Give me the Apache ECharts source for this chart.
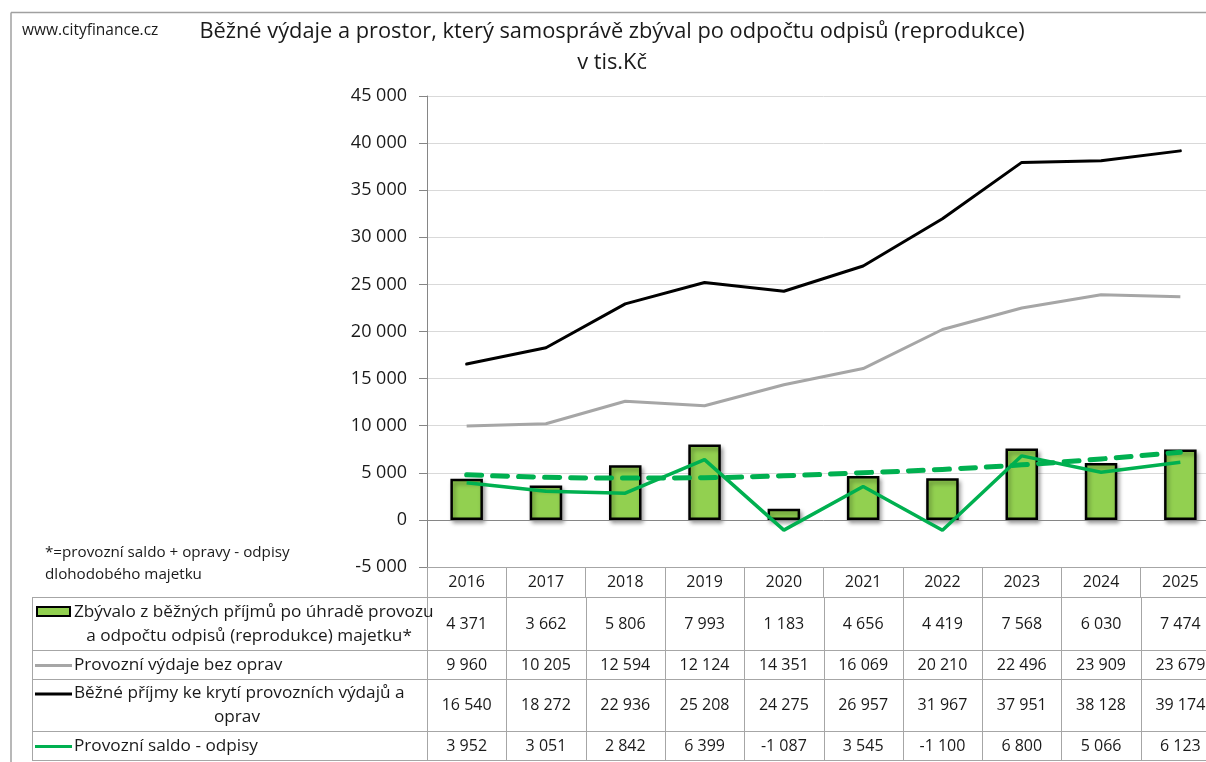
<!DOCTYPE html>
<html>
<head>
<meta charset="utf-8">
<script src="https://cdn.jsdelivr.net/npm/echarts@6/dist/echarts.min.js"></script>
<style>
  html, body { margin: 0; padding: 0; background: #ffffff; overflow: hidden; width: 1206px; height: 762px; }
  #chart { position: absolute; left: 0; top: 0; width: 1240px; height: 762px; }
</style>
</head>
<body>
<div id="chart"></div>
<script>
// Years (categories)
const years = ['2016', '2017', '2018', '2019', '2020', '2021', '2022', '2023', '2024', '2025'];

// Series values in thousands CZK
const zbyvalo = [4371, 3662, 5806, 7993, 1183, 4656, 4419, 7568, 6030, 7474];
const vydaje  = [9960, 10205, 12594, 12124, 14351, 16069, 20210, 22496, 23909, 23679];
const prijmy  = [16540, 18272, 22936, 25208, 24275, 26957, 31967, 37951, 38128, 39174];
const saldo   = [3952, 3051, 2842, 6399, -1087, 3545, -1100, 6800, 5066, 6123];
// Polynomial trend of "Provozní saldo - odpisy"
const saldoTrend = [4790, 4530, 4440, 4480, 4690, 5010, 5360, 5850, 6470, 7180];

// Value axis ticks
const yMin = -5000, yMax = 45000, yStep = 5000;

// Legend / table row labels
const rowLabels = [
  ['Zbývalo z běžných příjmů po úhradě provozu', 'a odpočtu odpisů (reprodukce) majetku*'],
  ['Provozní výdaje bez oprav'],
  ['Běžné příjmy ke krytí provozních výdajů a', 'oprav'],
  ['Provozní saldo - odpisy']
];
const titleLines = ['Běžné výdaje a prostor, který samosprávě zbýval po odpočtu odpisů (reprodukce)', 'v tis.Kč'];
const siteText = 'www.cityfinance.cz';
const noteLines = ['*=provozní saldo + opravy - odpisy', 'dlohodobého majetku'];

const FONT = '"Open Sans", "Noto Sans", sans-serif';
const TXT = '#1a1a1a';
const GRID_LINE = '#d9d9d9';
const TABLE_LINE = '#a6a6a6';
const C_BAR = '#92d050', C_GREEN = '#00b050', C_GREY = '#a6a6a6', C_BLACK = '#000000';

// Czech number format: space as thousands separator
const fmt = v => (v < 0 ? '-' : '') + String(Math.abs(v)).replace(/\B(?=(\d{3})+(?!\d))/g, ' ');

const chart = echarts.init(document.getElementById('chart'), null, { renderer: 'canvas' });

const GRID_LEFT = 427, GRID_TOP = 96, GRID_BOTTOM_Y = 567, GRID_W = 793;

chart.setOption({
  animation: false,
  backgroundColor: '#ffffff',
  grid: { left: GRID_LEFT, top: GRID_TOP, width: GRID_W, height: GRID_BOTTOM_Y - GRID_TOP, containLabel: false },
  xAxis: {
    type: 'category',
    data: years,
    boundaryGap: true,
    axisLine: { onZero: false, lineStyle: { color: TABLE_LINE, width: 1 } },
    axisTick: { show: true, alignWithLabel: false, length: 31, lineStyle: { color: TABLE_LINE, width: 1 } },
    axisLabel: { margin: 7, fontFamily: FONT, fontSize: 16, color: TXT },
    splitLine: { show: false }
  },
  yAxis: {
    type: 'value',
    min: yMin, max: yMax, interval: yStep,
    axisLine: { show: true, lineStyle: { color: '#868686', width: 1 } },
    axisTick: { show: true, length: 8, lineStyle: { color: '#868686' } },
    axisLabel: { margin: 20, fontFamily: FONT, fontSize: 18, color: TXT, formatter: v => fmt(v) },
    splitLine: { show: true, lineStyle: { color: GRID_LINE, width: 1 } }
  },
  series: [
    {
      name: rowLabels[0].join(' '),
      type: 'bar',
      data: zbyvalo,
      barWidth: '41%',
      itemStyle: {
        color: C_BAR, borderColor: '#000', borderWidth: 2.5,
        shadowColor: 'rgba(0,0,0,0.35)', shadowBlur: 4, shadowOffsetX: 2, shadowOffsetY: 3
      },
      markLine: {
        silent: true, symbol: 'none', label: { show: false },
        lineStyle: { color: '#868686', type: 'solid', width: 1 },
        data: [{ yAxis: 0 }]
      },
      z: 2
    },
    {
      name: rowLabels[1].join(' '),
      type: 'line', data: vydaje, symbol: 'none',
      lineStyle: { color: C_GREY, width: 3 }, z: 3
    },
    {
      name: rowLabels[2].join(' '),
      type: 'line', data: prijmy, symbol: 'none',
      lineStyle: { color: C_BLACK, width: 3, cap: 'round' }, z: 3
    },
    {
      name: 'trend',
      type: 'line', data: saldoTrend, symbol: 'none', smooth: true,
      lineStyle: { color: C_GREEN, width: 5, type: [15, 11], cap: 'round' }, z: 4
    },
    {
      name: rowLabels[3].join(' '),
      type: 'line', data: saldo, symbol: 'none',
      lineStyle: { color: C_GREEN, width: 3.5 }, z: 5
    }
  ]
});

// Data table under the plot, aligned with the category axis
const tableRows = [
  { labels: rowLabels[0], values: zbyvalo, key: 'bar', color: C_BAR },
  { labels: rowLabels[1], values: vydaje, key: 'line', color: C_GREY },
  { labels: rowLabels[2], values: prijmy, key: 'line', color: C_BLACK },
  { labels: rowLabels[3], values: saldo, key: 'line', color: C_GREEN }
];
const rowEdges = [597.5, 650.5, 679.5, 731.5, 760.5];
const TABLE_LEFT = 32;

const centers = years.map((y, i) => chart.convertToPixel({ xAxisIndex: 0 }, i));
const step = centers[1] - centers[0];
const bounds = centers.map(c => c - step / 2).concat([centers[centers.length - 1] + step / 2]);
const tableRight = bounds[bounds.length - 1];

const g = [];
// outer frame: top and left edges
g.push({ type: 'line', shape: { x1: 11, y1: 12.5, x2: 1240, y2: 12.5 }, style: { stroke: '#a0a0a0', lineWidth: 1.5 }, silent: true });
g.push({ type: 'line', shape: { x1: 11, y1: 12.5, x2: 11, y2: 762 }, style: { stroke: '#a0a0a0', lineWidth: 1.5 }, silent: true });

// site and title
g.push({ type: 'text', style: { text: siteText, x: 22, y: 31, font: '15.5px ' + FONT, fill: TXT, textAlign: 'left', textVerticalAlign: 'middle' } });
titleLines.forEach((t, i) => g.push({ type: 'text', style: { text: t, x: 612, y: 32 + i * 31, font: '21.8px ' + FONT, fill: TXT, textAlign: 'center', textVerticalAlign: 'middle' } }));

// footnote
noteLines.forEach((t, i) => g.push({ type: 'text', style: { text: t, x: 45, y: 553 + i * 22, font: '15.2px ' + FONT, fill: TXT, textAlign: 'left', textVerticalAlign: 'middle' } }));

// horizontal table lines
rowEdges.forEach(y => g.push({ type: 'line', shape: { x1: TABLE_LEFT, y1: y, x2: tableRight + 20, y2: y }, style: { stroke: TABLE_LINE, lineWidth: 1 }, silent: true }));
// vertical table lines
g.push({ type: 'line', shape: { x1: TABLE_LEFT + 0.5, y1: rowEdges[0], x2: TABLE_LEFT + 0.5, y2: rowEdges[rowEdges.length - 1] }, style: { stroke: TABLE_LINE, lineWidth: 1 }, silent: true });
bounds.forEach(x => g.push({ type: 'line', shape: { x1: Math.round(x) + 0.5, y1: rowEdges[0], x2: Math.round(x) + 0.5, y2: rowEdges[rowEdges.length - 1] }, style: { stroke: TABLE_LINE, lineWidth: 1 }, silent: true }));

// rows: legend key, label and values
tableRows.forEach((row, r) => {
  const top = rowEdges[r], bot = rowEdges[r + 1];
  const mid = (top + bot) / 2;
  const n = row.labels.length;
  const lh = 24;
  const firstY = mid - (n - 1) * lh / 2;
  if (row.key === 'bar') {
    g.push({ type: 'rect', shape: { x: 37, y: firstY - 5, width: 33, height: 9 }, style: { fill: row.color, stroke: '#000', lineWidth: 2 } });
  } else {
    g.push({ type: 'line', shape: { x1: 35, y1: firstY + 0.5, x2: 72, y2: firstY + 0.5 }, style: { stroke: row.color, lineWidth: 3 } });
  }
  row.labels.forEach((t, i) => {
    if (i === 0) {
      g.push({ type: 'text', style: { text: t, x: 74, y: firstY + i * lh, font: '17.2px ' + FONT, fill: TXT, textAlign: 'left', textVerticalAlign: 'middle' } });
    } else {
      g.push({ type: 'text', style: { text: t, x: r === 0 ? 249 : 237, y: firstY + i * lh, font: '17.2px ' + FONT, fill: TXT, textAlign: 'center', textVerticalAlign: 'middle' } });
    }
  });
  row.values.forEach((v, i) => {
    g.push({ type: 'text', style: { text: fmt(v), x: centers[i], y: mid, font: '16px ' + FONT, fill: TXT, textAlign: 'center', textVerticalAlign: 'middle' } });
  });
});

chart.setOption({ graphic: { elements: g } });
</script>
</body>
</html>
